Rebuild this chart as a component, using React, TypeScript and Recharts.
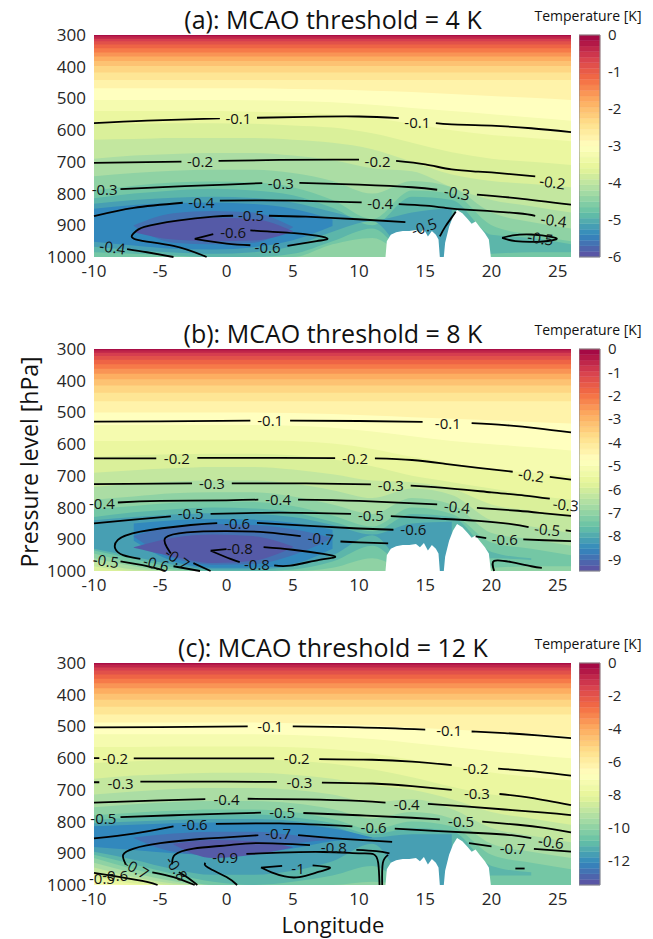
import React from "react";
import { ComposedChart, Area, Line, Scatter, XAxis, YAxis, ReferenceArea } from "recharts";

const FONT = "'Open Sans', 'Noto Sans', sans-serif";
const TXT = "#262626";

// sample longitudes for filled-contour boundaries
const LON = [-10, -7, -4, -1, 2, 5, 8, 11, 14, 17, 20, 23, 26];
// colour-fraction levels (0 = top of colour bar, 1 = bottom)
const FLAT_LEVELS = [0.04, 0.08, 0.12, 0.16, 0.2, 0.24, 0.28, 0.32, 0.36, 0.4, 0.44];
const SHAPED_LEVELS = [0.48, 0.52, 0.56, 0.6, 0.64, 0.68, 0.72, 0.76, 0.8, 0.84, 0.88, 0.92, 0.96];
const X_TICKS = [-10, -5, 0, 5, 10, 15, 20, 25];
const P_TICKS = [300, 400, 500, 600, 700, 800, 900, 1000];

// terrain (lon, pressure of surface)
const TERRAIN: [number, number][] = [
  [12.0, 1000], [12.1, 950], [12.4, 930], [12.8, 922], [13.3, 918], [13.8, 918], [14.3, 915], [14.6, 925],
  [14.9, 912], [15.2, 935], [15.5, 918], [15.8, 930], [16.0, 945], [16.1, 1000], [16.4, 1000], [16.5, 955],
  [16.8, 905], [17.1, 872], [17.4, 852], [17.8, 862], [18.2, 880], [18.5, 895], [18.8, 888], [19.1, 905],
  [19.5, 925], [19.8, 945], [19.95, 1000],
];

// ---------- panel (a) ----------
const A_FLAT = [304, 312, 320, 330, 342, 355, 368, 382, 398, 418, 442];
const A_TOP: (number | null)[][] = [
  [468, 468, 468, 468, 468, 470, 472, 476, 480, 486, 492, 498, 505],
  [505, 505, 505, 505, 506, 508, 512, 520, 530, 540, 550, 560, 570],
  [540, 540, 540, 540, 542, 545, 550, 562, 580, 600, 615, 625, 635],
  [580, 580, 578, 578, 580, 585, 592, 610, 640, 670, 690, 700, 710],
  [630, 628, 625, 625, 625, 630, 640, 660, 700, 740, 760, 770, 780],
  [690, 680, 675, 672, 672, 680, 695, 720, 730, 780, 820, 840, 860],
  [745, 735, 728, 725, 725, 735, 760, 800, 760, 780, 860, 890, 910],
  [790, 775, 765, 762, 765, 780, 820, 880, 790, 800, 900, 930, 950],
  [815, 800, 790, 785, 790, 805, 845, 900, 810, 820, 930, 940, 960],
  [832, 820, 813, 810, 814, 828, 858, 885, 860, 845, null, null, null],
  [848, 836, 830, 828, 833, 848, 882, null, null, null, null, null, null],
  [null, 900, 862, 855, 860, 905, null, null, null, null, null, null, null],
  [null, 920, 885, 876, 880, 918, null, null, null, null, null, null, null],
];
const A_BOT: (number[] | null)[] = [
  null, null, null, null, null, null, null,
  [1000, 1000, 1000, 1000, 1000, 1000, 960, 940, 1000, 1000, 1000, 1000, 1000],
  [985, 990, 995, 1000, 1000, 990, 950, 910, 1000, 1000, 990, 985, 985],
  [968, 978, 986, 990, 985, 965, 920, 887, 1000, 1000, 1000, 1000, 1000],
  [952, 964, 974, 976, 969, 947, 902, 1000, 1000, 1000, 1000, 1000, 1000],
  [1000, 902, 955, 960, 955, 907, 1000, 1000, 1000, 1000, 1000, 1000, 1000],
  [1000, 922, 945, 950, 948, 920, 1000, 1000, 1000, 1000, 1000, 1000, 1000],
];
const A_LINES: [number, number | null][][] = [
  [[-10, 578], [-6, 570], [-0.5, 563], [0.9, null], [2.3, 561], [6, 558], [10, 557], [13, 562], [14.4, null], [15.8, 578], [17, 582], [20, 586], [23, 594], [26, 606]],
  [[-10, 703], [-6, 701], [-3.4, 699], [-2, null], [-0.6, 697], [4, 694], [8, 693], [10, 693], [11.4, null], [12.8, 697], [15, 708], [17, 724], [19, 731], [21, 737], [23.3, 746]],
  [[-8, 786], [-4, 778], [0, 772], [2.7, 767], [4.1, null], [5.5, 766], [10, 772], [14, 780], [15.9, 788], [17.4, null], [18.9, 803], [22, 815], [26, 835]],
  [[-10, 871], [-7, 845], [-3.3, 829], [-1.9, null], [-0.5, 822], [5, 822], [10.2, 828], [11.6, null], [13, 833], [15, 838], [16.5, 845], [17.4, 849], [19, 853], [22, 862], [23.3, 870]],
  [[-7.5, 975], [-6, 985], [-4, 1000]],
  [[-1.5, 1000], [-4, 965], [-6.8, 945], [-7, 925], [-6.2, 905], [-3.7, 885], [-1, 873], [0.5, 870], [1.85, null], [3.2, 870], [6, 873], [9.9, 881], [13.5, 890]],
  [[16.1, 935], [16.5, 905], [17, 875], [17.3, 857]],
  [[20.8, 940], [21.6, 932], [23, 929], [24.6, 937], [24.8, 945], [23.5, 952], [21.8, 950], [20.8, 940]],
  [[-2.4, 943], [-1, 928], [0.5, null], [1.8, 916], [5.1, 925], [7.2, 936], [7.6, 944], [6.8, 950], [4.6, 965], [3.1, null], [1.8, 963], [0, 958], [-2.4, 943]],
];
const A_LABELS: [number, number, string, number?][] = [
  [0.9, 563, "-0.1"], [14.4, 573, "-0.1"], [-2, 697, "-0.2"], [11.4, 697, "-0.2"], [24.6, 763, "-0.2", 8],
  [-9.2, 786, "-0.3"], [4.1, 766, "-0.3"], [17.4, 797, "-0.3", 10], [-1.9, 825, "-0.4"], [11.6, 830, "-0.4"],
  [24.7, 883, "-0.4", 8], [-8.6, 968, "-0.4", 8], [1.85, 868, "-0.5"], [14.9, 904, "-0.5", -20], [23.7, 940, "-0.5", 8],
  [0.5, 920, "-0.6"], [3.1, 970, "-0.6"],
];

// ---------- panel (b) ----------
const B_FLAT = [304, 312, 322, 334, 348, 362, 378, 395, 415, 438, 465];
const B_TOP: (number | null)[][] = [
  [500, 500, 500, 500, 500, 502, 505, 510, 515, 520, 525, 530, 535],
  [540, 540, 540, 540, 540, 542, 548, 560, 575, 590, 600, 610, 620],
  [590, 590, 588, 588, 588, 590, 598, 615, 640, 660, 680, 690, 700],
  [640, 635, 632, 630, 630, 635, 648, 670, 700, 720, 740, 760, 775],
  [690, 682, 676, 672, 672, 680, 695, 715, 720, 740, 790, 810, 830],
  [735, 725, 718, 715, 715, 725, 745, 770, 740, 760, 840, 860, 880],
  [775, 765, 755, 752, 752, 765, 790, 820, 770, 790, 880, 900, 920],
  [805, 795, 785, 780, 782, 795, 825, 860, 800, 820, 910, 930, 950],
  [830, 815, 805, 800, 803, 815, 845, 875, 820, 830, 940, 960, null],
  [840, 830, 822, 818, 820, 830, 855, 885, 850, 845, null, null, null],
  [null, 850, 840, 836, 838, 848, 870, null, null, null, null, null, null],
  [null, 890, 860, 852, 855, 868, 895, null, null, null, null, null, null],
  [null, 925, 895, 885, 890, 922, null, null, null, null, null, null, null],
];
const B_BOT: (number[] | null)[] = [
  null, null, null, null,
  [985, 1000, 1000, 1000, 1000, 1000, 1000, 1000, 1000, 1000, 1000, 1000, 1000],
  [970, 995, 1000, 1000, 1000, 1000, 1000, 1000, 1000, 1000, 1000, 1000, 1000],
  [960, 985, 1000, 1000, 1000, 1000, 1000, 1000, 1000, 1000, 1000, 1000, 1000],
  [945, 975, 995, 1000, 1000, 1000, 990, 960, 1000, 1000, 990, 985, 985],
  [935, 962, 988, 1000, 1000, 995, 970, 920, 1000, 1000, 960, 965, 1000],
  [930, 955, 980, 995, 995, 985, 950, 887, 1000, 1000, 1000, 1000, 1000],
  [1000, 905, 970, 990, 990, 978, 930, 1000, 1000, 1000, 1000, 1000, 1000],
  [1000, 892, 960, 980, 978, 950, 897, 1000, 1000, 1000, 1000, 1000, 1000],
  [1000, 927, 955, 975, 968, 925, 1000, 1000, 1000, 1000, 1000, 1000, 1000],
];
const B_LINES: [number, number | null][][] = [
  [[-10, 529], [-5, 528], [1.8, 526], [3.3, null], [4.8, 526], [10, 527], [14.8, 530], [16.7, null], [18.5, 534], [21, 540], [23.5, 550], [26, 563]],
  [[-10, 645], [-5.3, 645], [-3.75, null], [-2.2, 643], [4, 643], [8.2, 644], [9.7, null], [11.2, 645], [14, 650], [16.5, 662], [19, 675], [21.6, 687], [23, null], [24.4, 703], [26, 712]],
  [[-10, 726], [-2.6, 724], [-1.1, null], [0.4, 724], [6, 724], [10.9, 727], [12.4, null], [13.9, 731], [17, 740], [20, 752], [22.5, 762], [24.4, 772]],
  [[-8.2, 784], [-5, 779], [0, 777], [2.4, 775], [3.9, null], [5.4, 775], [10, 779], [15.9, 790], [17.4, null], [18.9, 801], [22, 810], [24, 818], [26, 826]],
  [[-10, 850], [-7, 838], [-4.2, 828], [-2.7, null], [-1.2, 820], [4, 816], [9.4, 820], [10.9, null], [12.4, 827], [16, 835], [19, 842], [21.5, 852], [22.8, 862], [24.2, null], [25.6, 872], [26, 874]],
  [[-2, 1000], [-4, 985], [-5.3, null], [-6.5, 962], [-7.8, 950], [-8.4, 929], [-8.2, 902], [-6.5, 876], [-2.7, 855], [-0.7, 849], [0.8, null], [2.3, 848], [7.3, 860], [10, 866], [12.6, 870]],
  [[18.8, 891], [19.6, 896], [21, null], [22.4, 900], [24, 903], [26, 906]],
  [[12.2, 913], [10, 910], [8.6, 907], [7.1, null], [5.6, 890], [3, 878], [0, 874], [-3, 878], [-4.6, 895], [-4.5, 925], [-4.2, 945], [-3.7, null], [-2.5, 975], [-1.2, 1000]],
  [[20.2, 1000], [20.2, 968], [21.5, 972], [23, 985], [23.8, 990]],
  [[-1.2, 936], [0, 931], [1, null], [2.8, 925], [5, 933], [7.3, 946], [8.2, 956], [7, 965], [4.8, 983], [3.6, 982], [2.3, null], [1, 972], [0.3, 962], [-1.2, 936]],
  [[-8, 970], [-6, 985], [-4.6, 1000]],
];
const B_LABELS: [number, number, string, number?][] = [
  [3.3, 524, "-0.1"], [16.7, 533, "-0.1"], [-3.75, 643, "-0.2"], [9.7, 643, "-0.2"], [23, 697, "-0.2", 8],
  [-1.1, 724, "-0.3"], [12.4, 729, "-0.3"], [25.6, 790, "-0.3", 6], [-9.4, 786, "-0.4"], [3.9, 774, "-0.4"],
  [17.4, 797, "-0.4", 6], [-2.7, 818, "-0.5"], [10.9, 823, "-0.5"], [24.2, 868, "-0.5", 6], [-9.1, 967, "-0.5", 8],
  [0.8, 848, "-0.6"], [14.1, 869, "-0.6"], [21, 899, "-0.6"], [-5.3, 976, "-0.6", 15], [7.1, 897, "-0.7", 5],
  [-3.7, 960, "-0.7", 35], [1, 929, "-0.8"], [2.3, 978, "-0.8"],
];

// ---------- panel (c) ----------
const C_FLAT = [305, 314, 324, 336, 350, 364, 380, 397, 416, 438, 462];
const C_TOP: (number | null)[][] = [
  [488, 488, 488, 488, 488, 490, 492, 497, 503, 510, 516, 522, 530],
  [525, 525, 525, 525, 525, 527, 532, 540, 552, 565, 578, 590, 600],
  [565, 565, 563, 563, 563, 566, 572, 585, 605, 625, 645, 660, 670],
  [615, 610, 606, 604, 604, 608, 618, 635, 660, 690, 715, 730, 745],
  [665, 655, 650, 646, 646, 652, 665, 685, 700, 730, 770, 790, 810],
  [715, 705, 697, 694, 694, 700, 715, 740, 730, 760, 820, 845, 865],
  [755, 745, 738, 735, 735, 742, 760, 790, 770, 790, 870, 895, 915],
  [780, 772, 766, 762, 762, 770, 792, 825, 800, 815, 905, 930, 950],
  [795, 788, 782, 778, 778, 786, 805, 840, 820, 830, 940, 960, null],
  [805, 800, 795, 792, 792, 798, 815, 850, 840, 840, null, null, null],
  [815, 810, 805, 803, 803, 808, 822, 850, null, null, null, null, null],
  [null, 850, 838, 832, 832, 842, 855, null, null, null, null, null, null],
  [null, null, 870, 858, 862, 880, null, null, null, null, null, null, null],
];
const C_BOT: (number[] | null)[] = [
  null, null,
  [990, 1000, 1000, 1000, 1000, 1000, 1000, 1000, 1000, 1000, 1000, 1000, 1000],
  [975, 995, 1000, 1000, 1000, 1000, 1000, 1000, 1000, 1000, 1000, 1000, 1000],
  [960, 985, 1000, 1000, 1000, 1000, 1000, 1000, 1000, 1000, 1000, 1000, 1000],
  [945, 975, 995, 1000, 1000, 1000, 1000, 1000, 1000, 1000, 1000, 1000, 1000],
  [930, 962, 988, 1000, 1000, 1000, 1000, 1000, 1000, 1000, 1000, 1000, 1000],
  [915, 950, 978, 1000, 1000, 1000, 1000, 990, 1000, 1000, 1000, 1000, 1000],
  [905, 935, 965, 990, 1000, 990, 970, 940, 1000, 1000, 970, 970, 1000],
  [895, 920, 950, 968, 968, 955, 925, 870, 1000, 1000, 1000, 1000, 1000],
  [880, 890, 900, 905, 900, 885, 862, 852, 1000, 1000, 1000, 1000, 1000],
  [1000, 852, 895, 905, 900, 870, 857, 1000, 1000, 1000, 1000, 1000, 1000],
  [1000, 1000, 872, 915, 905, 882, 1000, 1000, 1000, 1000, 1000, 1000, 1000],
];
const C_LINES: [number, number | null][][] = [
  [[-10, 503], [-5, 502], [1.6, 500], [3.3, null], [5, 500], [10, 503], [15, 510], [16.8, null], [18.5, 516], [21, 521], [23.5, 528], [26, 537]],
  [[-10, 600], [-9.6, 600], [-8.4, null], [-7, 601], [-3, 601], [3.6, 601], [5.3, null], [7, 603], [11, 605], [14, 611], [17, 622], [18.8, null], [20.5, 633], [23, 641], [26, 655]],
  [[-10, 676], [-9.6, 676], [-8, null], [-6.5, 674], [0, 674], [3.8, 675], [5.5, null], [7.2, 677], [11, 680], [14, 688], [17, 700], [18.9, null], [20.6, 713], [23, 725], [26, 748]],
  [[-10, 740], [-5, 733], [-1.6, 729], [0, null], [1.6, 728], [6, 730], [10, 735], [12, 740], [13.6, null], [15.2, 744], [18, 752], [21, 762], [24, 772], [26, 780]],
  [[-8, 786], [-4, 780], [0, 775], [2.6, 772], [4.2, null], [5.8, 773], [10, 780], [14, 788], [16.1, 793], [17.7, null], [19.3, 800], [22, 810], [24, 820], [26, 834]],
  [[-10, 853], [-7, 838], [-4, 815], [-2.4, null], [-0.8, 807], [4, 806], [9.5, 815], [11.1, null], [12.7, 822], [16, 830], [19, 836], [21.5, 843], [23, 852]],
  [[-2.4, 1000], [-4, 975], [-5.6, 960], [-6.8, null], [-7.6, 935], [-7.8, 905], [-7, 885], [-5, 868], [-2, 855], [0, 850], [2.4, 843], [3.9, null], [5.4, 843], [8, 852], [10, 858], [12.5, 864]],
  [[18.3, 868], [20, 878], [21.6, null], [23.2, 886], [26, 895]],
  [[-2.2, 1000], [-3, 975], [-3.6, 960], [-3.75, null], [-4.1, 935], [-3.9, 905], [-2.5, 885], [0, 875], [2.3, 868], [6.3, 874], [8.1, null], [9.8, 889], [11.3, 893], [12.3, 900]],
  [[11.75, 1000], [11.8, 930], [12.2, 905]],
  [[0.8, 1000], [0, 975], [-1.4, 945], [-1.6, 930], [-0.1, null], [1.5, 902], [4, 898], [7.3, 896], [10, 900], [11.1, 903], [11.45, 930], [11.55, 1000]],
  [[2.6, 945], [4.2, 940], [5.4, null], [6.5, 938], [7.8, 945], [7, 958], [5.5, 975], [4.4, 973], [3.4, 960], [2.6, 945]],
  [[-10, 962], [-8, 975], [-6, 990], [-5.2, 1000]],
  [[21.8, 948], [22.5, 948]],
];
const C_LABELS: [number, number, string, number?][] = [
  [3.3, 499, "-0.1"], [16.8, 512, "-0.1"], [-8.4, 601, "-0.2"], [5.3, 601, "-0.2"], [18.8, 630, "-0.2"],
  [-8, 677, "-0.3"], [5.5, 676, "-0.3"], [18.9, 709, "-0.3"], [0, 729, "-0.4"], [13.6, 745, "-0.4"],
  [-9.3, 790, "-0.5"], [4.2, 769, "-0.5"], [17.7, 797, "-0.5"], [-2.4, 808, "-0.6"], [11.1, 818, "-0.6"],
  [24.5, 863, "-0.6", 8], [3.9, 837, "-0.7"], [21.6, 884, "-0.7"], [-6.8, 947, "-0.7", 30], [8.1, 881, "-0.8"],
  [-3.75, 947, "-0.8", 55], [-0.1, 911, "-0.9"], [5.4, 945, "-1"], [-9.4, 978, "-0.5"], [-8.4, 968, "-0.6"],
];

const A_CB_TICKS = [0, -1, -2, -3, -4, -5, -6];
const B_CB_TICKS = [0, -1, -2, -3, -4, -5, -6, -7, -8, -9];
const C_CB_TICKS = [0, -2, -4, -6, -8, -10, -12];

// ---------- colour map (Spectral, red at 0 -> purple at 1) ----------
const SPECTRAL = ["#9e0142", "#d53e4f", "#f46d43", "#fdae61", "#fee08b", "#ffffbf", "#e6f598", "#abdda4", "#66c2a5", "#3288bd", "#5e4fa2"];
function hex(c: string) {
  return [parseInt(c.slice(1, 3), 16), parseInt(c.slice(3, 5), 16), parseInt(c.slice(5, 7), 16)];
}
function cmap(f: number) {
  const t = Math.max(0, Math.min(0.99999, f)) * 10;
  const i = Math.floor(t);
  const u = t - i;
  const a = hex(SPECTRAL[i]);
  const b = hex(SPECTRAL[i + 1]);
  const m = a.map((v, k) => Math.round(v + (b[k] - v) * u));
  return `rgb(${m[0]},${m[1]},${m[2]})`;
}

function buildBands(flat: number[], tops: (number | null)[][], bots: (number[] | null)[]) {
  const bands: { f: number; data: any[] }[] = [{ f: 0.02, data: LON.map((x) => ({ x, v: [300, 1000] })) }];
  FLAT_LEVELS.forEach((L, i) => bands.push({ f: L + 0.02, data: LON.map((x) => ({ x, v: [flat[i], 1000] })) }));
  SHAPED_LEVELS.forEach((L, i) =>
    bands.push({
      f: L + 0.02,
      data: LON.map((x, j) => {
        const t = tops[i][j];
        const b = bots[i] ? (bots[i] as number[])[j] : 1000;
        return { x, v: t == null ? null : [t, b] };
      }),
    })
  );
  return bands;
}

const labelShape = (props: any) => {
  const { cx, cy, payload } = props;
  if (cx == null || cy == null) return <g />;
  return (
    <text
      x={cx}
      y={cy}
      textAnchor="middle"
      dominantBaseline="central"
      fontFamily={FONT}
      fontSize={15}
      fill="#111"
      transform={payload.r ? `rotate(${payload.r} ${cx} ${cy})` : undefined}
    >
      {payload.t}
    </text>
  );
};

function ColorBar({ top, min, ticks }: { top: number; min: number; ticks: number[] }) {
  const N = 40;
  const bands = Array.from({ length: N }, (_, i) => ({
    y1: min + (i * -min) / N,
    y2: min + ((i + 1) * -min) / N,
    f: 1 - (i + 0.5) / N,
  }));
  return (
    <div style={{ position: "absolute", left: 579, top: top - 10 }}>
      <ComposedChart width={70} height={242} margin={{ top: 10, right: 0, bottom: 10, left: 0 }} data={[{ x: 0, p: 0 }, { x: 1, p: min }]}>
        <XAxis type="number" dataKey="x" domain={[0, 1]} hide allowDataOverflow />
        <YAxis
          type="number"
          dataKey="p"
          orientation="right"
          domain={[min, 0]}
          ticks={ticks}
          interval={0}
          width={49}
          tickLine={false}
          axisLine={false}
          allowDataOverflow
          tick={{ fontSize: 15, fontFamily: FONT, fill: TXT }}
        />
        {bands.map((b, i) => (
          <ReferenceArea key={i} x1={0} x2={1} y1={b.y1} y2={b.y2} fill={cmap(b.f)} fillOpacity={1} stroke={cmap(b.f)} strokeWidth={0.4} ifOverflow="visible" />
        ))}
        <ReferenceArea x1={0} x2={1} y1={min} y2={0} fill="none" stroke="#8a8a8a" strokeWidth={1} ifOverflow="visible" />
      </ComposedChart>
    </div>
  );
}

type PanelProps = {
  top: number;
  flat: number[];
  tops: (number | null)[][];
  bots: (number[] | null)[];
  lines: [number, number | null][][];
  labels: [number, number, string, number?][];
  cbMin: number;
  cbTicks: number[];
};

function Panel({ top, flat, tops, bots, lines, labels, cbMin, cbTicks }: PanelProps) {
  const bands = buildBands(flat, tops, bots);
  const terrain = TERRAIN.map(([x, p]) => ({ x, v: [p, 1000] }));
  const labelData = labels.map(([x, p, t, r]) => ({ x, p, t, r: r || 0 }));
  return (
    <>
      <div style={{ position: "absolute", left: 0, top: top - 35 }}>
        <ComposedChart width={600} height={290} margin={{ top: 35, right: 29, bottom: 3, left: 34 }}>
          <XAxis
            type="number"
            dataKey="x"
            domain={[-10, 26]}
            ticks={X_TICKS}
            interval={0}
            tickLine={false}
            axisLine={false}
            height={30}
            tick={{ fontSize: 17, fontFamily: FONT, fill: TXT }}
          />
          <YAxis
            type="number"
            dataKey="p"
            domain={[300, 1000]}
            reversed
            ticks={P_TICKS}
            interval={0}
            tickLine={false}
            axisLine={false}
            width={60}
            tick={{ fontSize: 17, fontFamily: FONT, fill: TXT }}
          />
          {bands.map((b, i) => (
            <Area
              key={"b" + i}
              data={b.data}
              dataKey="v"
              type="monotone"
              stroke="none"
              fill={cmap(b.f)}
              fillOpacity={1}
              dot={false}
              activeDot={false}
              isAnimationActive={false}
            />
          ))}
          <Area data={terrain} dataKey="v" type="linear" stroke="none" fill="#ffffff" fillOpacity={1} dot={false} activeDot={false} isAnimationActive={false} />
          {lines.map((ln, i) => (
            <Line
              key={"l" + i}
              data={ln.map(([x, p]) => ({ x, p }))}
              dataKey="p"
              type="natural"
              stroke="#000"
              strokeWidth={1.8}
              dot={false}
              activeDot={false}
              connectNulls={false}
              isAnimationActive={false}
            />
          ))}
          <Scatter data={labelData} dataKey="p" shape={labelShape} isAnimationActive={false} />
        </ComposedChart>
      </div>
      <ColorBar top={top} min={cbMin} ticks={cbTicks} />
    </>
  );
}

const PLOT_TOPS = [35, 349, 663];
const TITLES = ["(a): MCAO threshold = 4 K", "(b): MCAO threshold = 8 K", "(c): MCAO threshold = 12 K"];

export default function App() {
  return (
    <div style={{ position: "absolute", left: 0, top: 0, width: 653, height: 939, background: "#fff", overflow: "hidden" }}>
      <Panel top={PLOT_TOPS[0]} flat={A_FLAT} tops={A_TOP} bots={A_BOT} lines={A_LINES} labels={A_LABELS} cbMin={-6} cbTicks={A_CB_TICKS} />
      <Panel top={PLOT_TOPS[1]} flat={B_FLAT} tops={B_TOP} bots={B_BOT} lines={B_LINES} labels={B_LABELS} cbMin={-9.5} cbTicks={B_CB_TICKS} />
      <Panel top={PLOT_TOPS[2]} flat={C_FLAT} tops={C_TOP} bots={C_BOT} lines={C_LINES} labels={C_LABELS} cbMin={-13.5} cbTicks={C_CB_TICKS} />
      <svg width={653} height={939} style={{ position: "absolute", left: 0, top: 0, pointerEvents: "none" }}>
        {PLOT_TOPS.map((t, i) => (
          <g key={i}>
            <text x={333} y={t - 6} textAnchor="middle" fontFamily={FONT} fontSize={25} fill="#111">
              {TITLES[i]}
            </text>
            <text x={588} y={t - 14} textAnchor="middle" fontFamily={FONT} fontSize={14} fill="#111">
              Temperature [K]
            </text>
          </g>
        ))}
        <text x={0} y={0} transform="translate(38 462) rotate(-90)" textAnchor="middle" fontFamily={FONT} fontSize={23} fill="#111">
          Pressure level [hPa]
        </text>
        <text x={333} y={933} textAnchor="middle" fontFamily={FONT} fontSize={22} fill="#111">
          Longitude
        </text>
      </svg>
    </div>
  );
}
